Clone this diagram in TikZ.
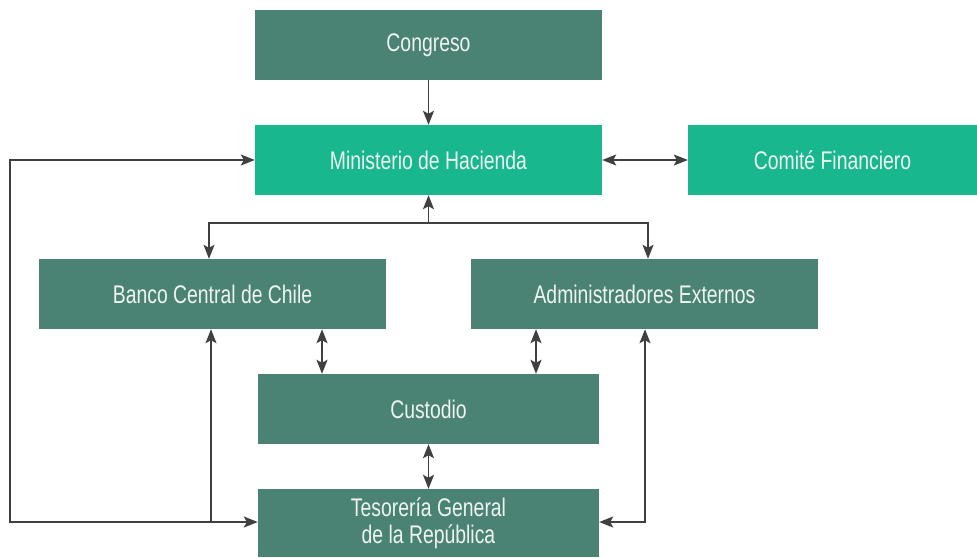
\documentclass[tikz,border=0pt]{standalone}
\usepackage{fontspec}
\setmainfont{Liberation Sans}[FakeStretch=0.76]
\usetikzlibrary{arrows.meta}
\definecolor{darkg}{HTML}{4A8273}
\definecolor{brightg}{HTML}{18B78D}
\definecolor{linec}{HTML}{404040}
\definecolor{txt}{HTML}{EEF5F2}
\tikzset{
  box/.style={rectangle, inner sep=0pt, text=txt, align=center,
    font=\fontsize{25.5}{27}\selectfont, minimum height=70pt},
  dbox/.style={box, fill=darkg},
  bbox/.style={box, fill=brightg},
  conn/.style={draw=linec, line width=1.8pt,
    arrows={-Stealth[length=14pt,width=11pt,inset=3pt]}},
  bconn/.style={conn, arrows={Stealth[length=14pt,width=11pt,inset=3pt]-Stealth[length=14pt,width=11pt,inset=3pt]}},
  plain/.style={draw=linec, line width=1.8pt}
}
\begin{document}
\begin{tikzpicture}[x=1pt,y=-1pt]
\useasboundingbox (0,0) rectangle (977,557);
\node[dbox, minimum width=347pt] (cong) at (428.5,45) {Congreso};
\node[bbox, minimum width=347pt] (min) at (428.5,160) {Ministerio de Hacienda};
\node[bbox, minimum width=289pt] (com) at (832.5,160) {Comité Financiero};
\node[dbox, minimum width=347pt] (ban) at (212.5,294) {Banco Central de Chile};
\node[dbox, minimum width=347pt] (adm) at (644.5,294) {Administradores Externos};
\node[dbox, minimum width=341pt] (cus) at (428.5,409) {Custodio};
\node[dbox, minimum width=341pt, minimum height=68pt] (tes) at (428.5,523) {Tesorería General\\de la República};

\coordinate (jm) at (428.5,223);
\coordinate (jl) at (209,223);
\coordinate (jr) at (648,223);
\coordinate (lt) at (10,160);
\coordinate (lb) at (10,522);
\coordinate (lbr) at (211,522);
\coordinate (rb) at (645,522);

\draw[conn] (cong.south) -- (min.north);
\draw[bconn] (min.east) -- (com.west);
\draw[conn] (jm) -- (min.south);
\draw[bconn] (ban.north -| jl) -- (jl) -- (jr) -- (adm.north -| jr);
\draw[bconn] (min.west) -- (lt) -- (lb) -- (tes.west |- lb);
\draw[conn] (lbr) -- (ban.south -| lbr);
\draw[bconn] (ban.south -| 322,0) -- (cus.north -| 322,0);
\draw[bconn] (adm.south -| 536,0) -- (cus.north -| 536,0);
\draw[bconn] (cus.south) -- (tes.north);
\draw[bconn] (adm.south -| rb) -- (rb) -- (tes.east |- rb);
\end{tikzpicture}
\end{document}
